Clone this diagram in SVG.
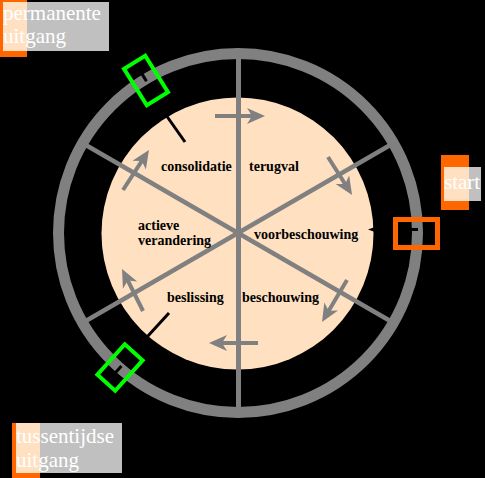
<svg xmlns="http://www.w3.org/2000/svg" width="485" height="478" viewBox="0 0 485 478">
<style>
.ring{fill:none;stroke:#808080;stroke-width:11}
.axis{stroke:#808080;stroke-width:5}
.arr{stroke:#808080;stroke-width:4;marker-end:url(#ah)}
.tick{stroke:#000;stroke-width:3}
.gap{stroke:#000;stroke-width:3}
.lbl{font-family:"Liberation Serif","Times New Roman",serif;font-weight:bold;font-size:14px;fill:#000}
.ext{font-family:"Liberation Serif","Times New Roman",serif;font-size:21px;fill:#fff}
.grn{fill:none;stroke:#00ff00;stroke-width:4}
.org{fill:#ff6600}
.pch{fill:#ffe0c0}
.gry{fill:#c0c0c0}
</style>
<defs>
<marker id="ah" markerUnits="userSpaceOnUse" markerWidth="40" markerHeight="40" viewBox="-20 -20 40 40" refX="0" refY="0" orient="auto" overflow="visible">
<path d="M10,0 L-8,-8 L-3,0 L-8,8 Z" fill="#808080"/>
</marker>
</defs>
<rect x="0" y="0" width="485" height="478" fill="#000"/>
<g id="disc">
<circle cx="237.5" cy="233.5" r="136" fill="#ffe0c0"/>
<polygon points="368,229.5 375,227 375,232" fill="#000"/>
</g>
<g id="ring">
<circle class="ring" cx="238" cy="233" r="179.5"/>
</g>
<g id="connectors">
<line class="axis" x1="238.5" y1="50" x2="238.5" y2="415"/>
<line class="axis" x1="84" y1="144" x2="392" y2="322" style="stroke-width:4.5"/>
<line class="axis" x1="84" y1="322" x2="392" y2="144" style="stroke-width:4.5"/>
<line class="arr" x1="215" y1="116" x2="255" y2="116"/>
<line class="arr" x1="328" y1="157" x2="346.7" y2="186.5"/>
<line class="arr" x1="347" y1="280" x2="327.1" y2="313.4"/>
<line class="arr" x1="258" y1="343" x2="219" y2="343"/>
<line class="arr" x1="143" y1="311" x2="126.5" y2="277.9"/>
<line class="arr" x1="123" y1="190" x2="143.5" y2="158.4"/>
<line class="tick" x1="166" y1="115" x2="185" y2="142"/>
<line class="tick" x1="169" y1="313" x2="147" y2="337"/>
</g>
<g id="phases">
<text class="lbl" x="161" y="171">consolidatie</text>
<text class="lbl" x="249" y="171">terugval</text>
<text class="lbl" x="138" y="230">actieve</text>
<text class="lbl" x="138" y="245">verandering</text>
<text class="lbl" x="254" y="239">voorbeschouwing</text>
<text class="lbl" x="167" y="302">beslissing</text>
<text class="lbl" x="242" y="302">beschouwing</text>
</g>
<g id="exit-permanent-gate">
<line class="gap" x1="141.8" y1="73.6" x2="146.5" y2="81.3"/>
<rect class="grn" x="-21.5" y="-12.5" width="43" height="25" transform="translate(146,80.5) rotate(58)"/>
</g>
<g id="exit-interim-gate">
<line class="gap" x1="115.4" y1="372.7" x2="121.4" y2="365.9"/>
<rect class="grn" x="-20.5" y="-12" width="41" height="24" transform="translate(120,367.5) rotate(-48)"/>
</g>
<g id="start-gate">
<line class="gap" x1="410" y1="229.5" x2="418" y2="229.5"/>
<rect x="395.5" y="219.5" width="42" height="28" fill="none" stroke="#ff6600" stroke-width="5"/>
</g>
<g id="label-permanente">
<rect class="org" x="0" y="0" width="27" height="57"/>
<rect class="gry" x="27" y="2" width="82" height="49"/>
<rect class="pch" x="3" y="2" width="24" height="49"/>
<text class="ext" x="3" y="19.5">permanente</text>
<text class="ext" x="3" y="43">uitgang</text>
</g>
<g id="label-start">
<rect class="org" x="441" y="155" width="28" height="55"/>
<rect class="gry" x="469" y="167" width="12" height="34"/>
<rect class="pch" x="444" y="167" width="25" height="34"/>
<text class="ext" x="444" y="189">start</text>
</g>
<g id="label-tussentijdse">
<rect class="org" x="12" y="423" width="28" height="55"/>
<rect class="gry" x="40" y="423" width="82" height="50"/>
<rect class="pch" x="16" y="423" width="24" height="50"/>
<text class="ext" x="16" y="443">tussentijdse</text>
<text class="ext" x="16" y="467">uitgang</text>
</g>
</svg>
